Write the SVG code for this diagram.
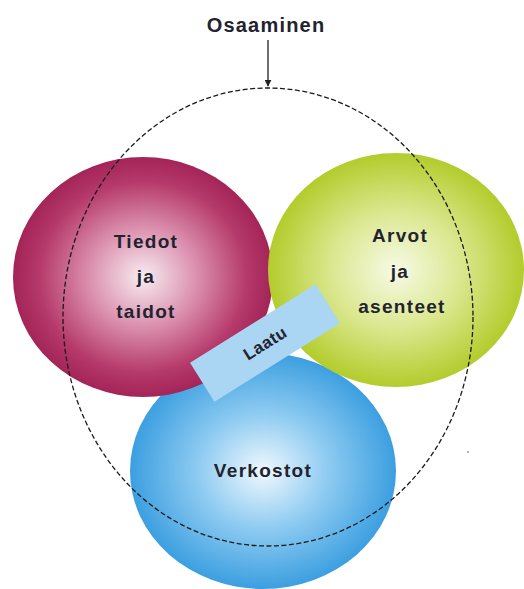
<svg xmlns="http://www.w3.org/2000/svg" width="524" height="589" viewBox="0 0 524 589">
<defs>
<radialGradient id="gRed" cx="50%" cy="50%" r="50%">
<stop offset="0" stop-color="#f7ecf1"/>
<stop offset="0.4" stop-color="#dc93b0"/>
<stop offset="0.8" stop-color="#b5396a"/>
<stop offset="1" stop-color="#a42458"/>
</radialGradient>
<radialGradient id="gGreen" cx="50%" cy="50%" r="50%">
<stop offset="0" stop-color="#f7faE6"/>
<stop offset="0.5" stop-color="#dbe890"/>
<stop offset="1" stop-color="#b3cc2c"/>
</radialGradient>
<radialGradient id="gBlue" cx="50%" cy="50%" r="50%">
<stop offset="0" stop-color="#f0f8fd"/>
<stop offset="0.5" stop-color="#8ccaf1"/>
<stop offset="1" stop-color="#3c9fe0"/>
</radialGradient>
<marker id="arr" viewBox="0 0 10 10" refX="9" refY="5" markerWidth="7" markerHeight="7" orient="auto" markerUnits="userSpaceOnUse">
<path d="M0,0 L10,5 L0,10 z" fill="#222"/>
</marker>
</defs>
<style>
.lbl{font-family:"Liberation Sans",Arial,sans-serif;font-weight:bold;fill:#23232f;text-anchor:middle}
.big{font-size:20px;letter-spacing:1.2px}
.mid{font-size:19px;letter-spacing:1.3px}
.dash{fill:none;stroke:#1a1a1a;stroke-width:1.3;stroke-dasharray:5 2.5}
</style>
<rect width="524" height="589" fill="#ffffff"/>
<g id="verkostot">
<ellipse cx="263" cy="471" rx="133" ry="118" fill="url(#gBlue)"/>
<text class="lbl mid" x="263" y="477">Verkostot</text>
</g>
<g id="tiedot">
<ellipse cx="143" cy="277" rx="130" ry="120" fill="url(#gRed)"/>
<text class="lbl mid" x="146" y="248">Tiedot</text>
<text class="lbl mid" x="146" y="283">ja</text>
<text class="lbl mid" x="146" y="318">taidot</text>
</g>
<g id="arvot">
<ellipse cx="396" cy="270" rx="128" ry="117" fill="url(#gGreen)"/>
<text class="lbl mid" x="400" y="242">Arvot</text>
<text class="lbl mid" x="400" y="278">ja</text>
<text class="lbl mid" x="402" y="313">asenteet</text>
</g>
<g id="osaaminen">
<text class="lbl big" x="266" y="32">Osaaminen</text>
<ellipse class="dash" cx="268" cy="317" rx="205" ry="229"/>
</g>
<g id="connectors">
<line x1="268" y1="40" x2="268" y2="86" stroke="#222" stroke-width="1.3" marker-end="url(#arr)"/>
</g>
<g id="laatu">
<g transform="translate(265,343) rotate(-32)">
<rect x="-74" y="-23" width="148" height="46" fill="#aad5f3"/>
<text class="lbl" x="0" y="6" style="font-size:17px;letter-spacing:0.5px">Laatu</text>
</g>
</g>
<circle cx="468" cy="452" r="0.8" fill="#555"/>
</svg>
